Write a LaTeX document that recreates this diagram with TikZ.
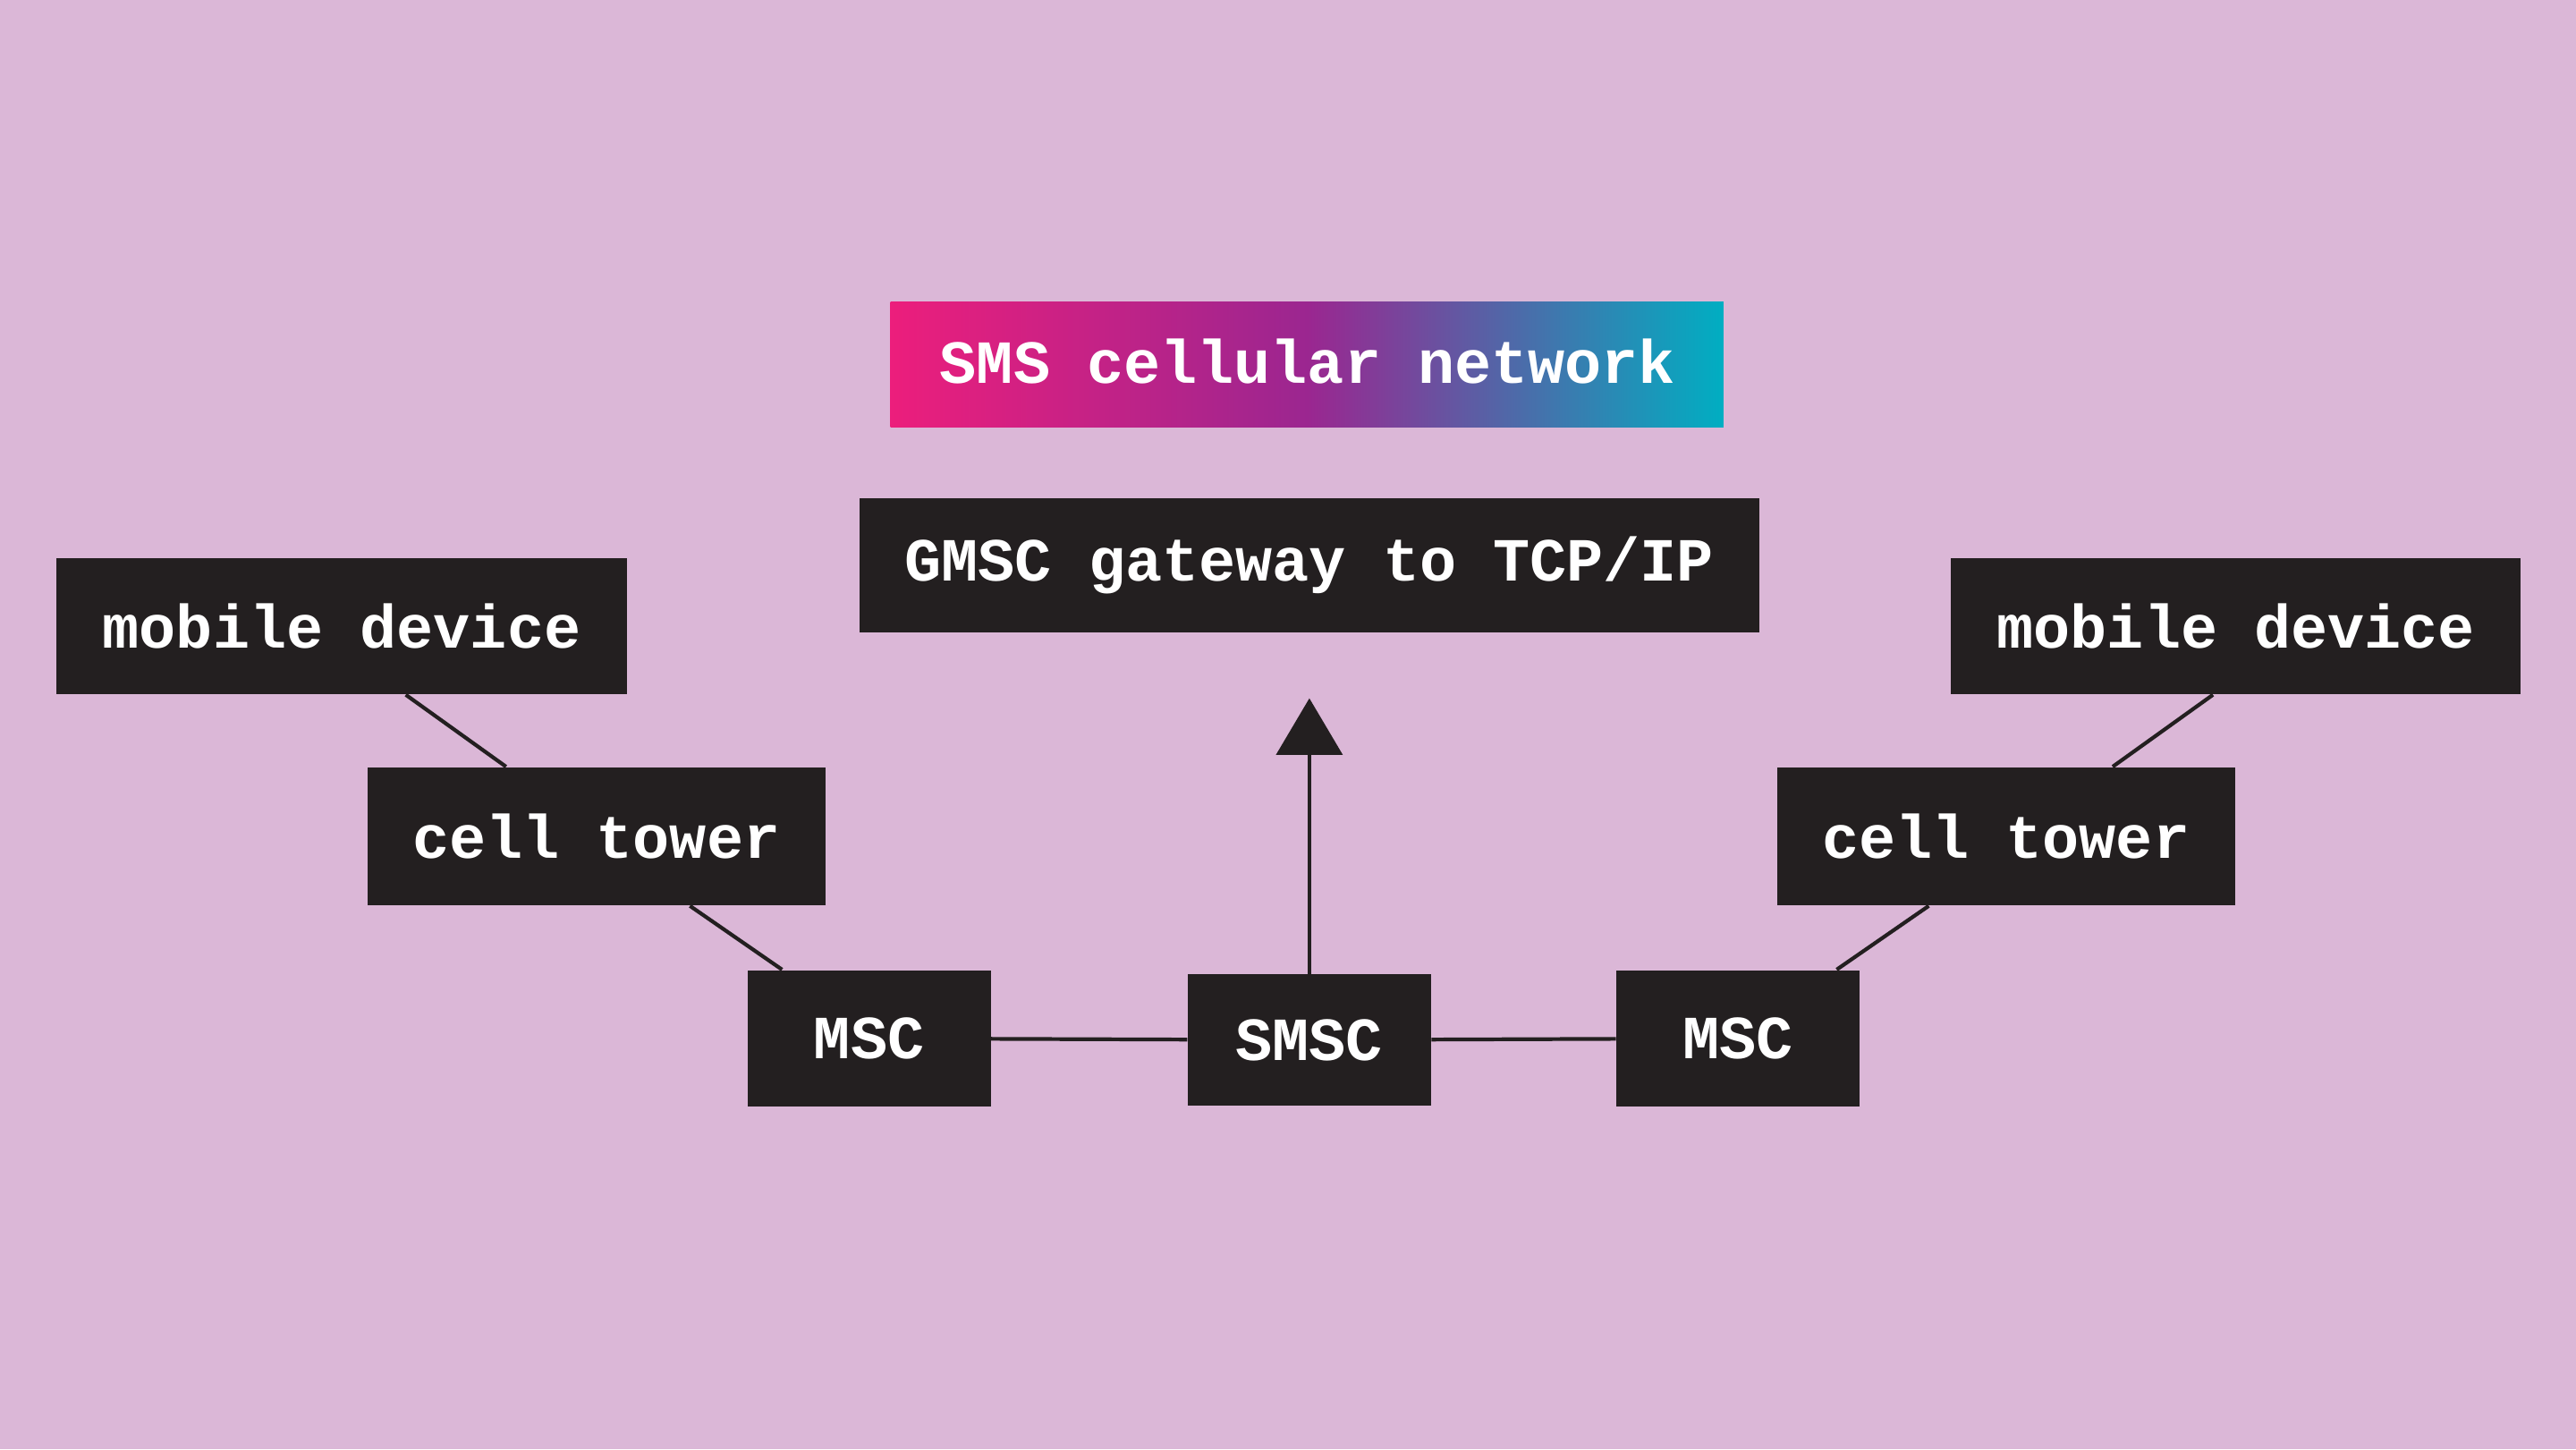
\documentclass[tikz,border=0pt]{standalone}
\usepackage{fontspec}
\setmonofont{Liberation Mono}
\usetikzlibrary{arrows.meta}
\definecolor{bgpink}{HTML}{DBB7D7}
\definecolor{boxblack}{HTML}{231F20}
\definecolor{hotpink}{HTML}{EC1E7C}
\definecolor{midpurple}{HTML}{9B2690}
\definecolor{teal}{HTML}{00AEC2}
\begin{document}
\begin{tikzpicture}[
    x = 0.018367cm, y = -0.018367cm,
    box/.style = {fill = boxblack, text = white, inner sep = 0pt,
      font = \ttfamily\bfseries\fontsize{19.5}{22}\selectfont},
    link/.style = {draw = boxblack, line width = 1.2pt}
    ]
    \fill[bgpink] (0,0) rectangle (1568,882);
    \useasboundingbox (0,0) rectangle (1568,882);

    % title bar
    \shade[left color = hotpink, right color = teal, middle color = midpurple]
      (542,184) rectangle (1049,260);
    \node[text = white, font = \ttfamily\bfseries\fontsize{19.5}{22}\selectfont]
      (title) at (796,220) {SMS cellular network};

    \node[box, minimum width = 548*0.5225pt, minimum height = 82*0.5225pt] (gmsc) at (797,344) {GMSC gateway to TCP/IP};
    \node[box, minimum width = 347*0.5225pt, minimum height = 83*0.5225pt] (mobL) at (208,381) {mobile device};
    \node[box, minimum width = 279*0.5225pt, minimum height = 84*0.5225pt] (cellL) at (363,509) {cell tower};
    \node[box, minimum width = 148*0.5225pt, minimum height = 83*0.5225pt] (mscL) at (529,632) {MSC};
    \node[box, minimum width = 148*0.5225pt, minimum height = 80*0.5225pt] (smsc) at (797,633) {SMSC};
    \node[box, minimum width = 148*0.5225pt, minimum height = 83*0.5225pt] (mscR) at (1058,632) {MSC};
    \node[box, minimum width = 279*0.5225pt, minimum height = 84*0.5225pt] (cellR) at (1221,509) {cell tower};
    \node[box, minimum width = 347*0.5225pt, minimum height = 83*0.5225pt] (mobR) at (1361,381) {mobile device};
    \coordinate (tip) at (797,425);

    \draw[link] ([xshift = 39*0.5225pt]mobL.south) -- ([xshift = -55*0.5225pt]cellL.north);
    \draw[link] ([xshift = 57*0.5225pt]cellL.south) -- ([xshift = -53*0.5225pt]mscL.north);
    \draw[link] ([xshift = -14*0.5225pt]mobR.south) -- ([xshift = 65*0.5225pt]cellR.north);
    \draw[link] ([xshift = -47*0.5225pt]cellR.south) -- ([xshift = 60*0.5225pt]mscR.north);
    \draw[link] (mscL) -- (smsc);
    \draw[link] (smsc) -- (mscR);
    \draw[link, -{Triangle[length = 18pt, width = 21pt]}] (smsc.north) -- (tip);
\end{tikzpicture}
\end{document}
